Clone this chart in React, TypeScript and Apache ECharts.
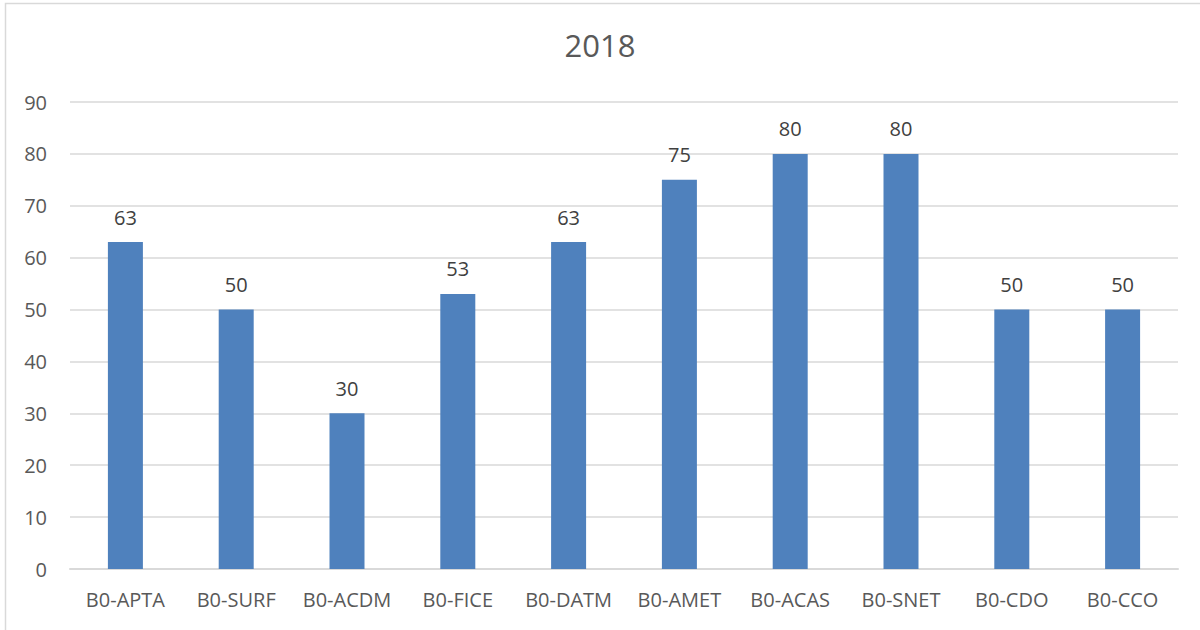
import React, { useEffect, useRef } from "react";
import * as echarts from "echarts";

const categories = ["B0-APTA", "B0-SURF", "B0-ACDM", "B0-FICE", "B0-DATM", "B0-AMET", "B0-ACAS", "B0-SNET", "B0-CDO", "B0-CCO"];
const values = [63, 50, 30, 53, 63, 75, 80, 80, 50, 50];
const title = "2018";

const FONT = "'Open Sans', sans-serif";

export default function App() {
  const ref = useRef<HTMLDivElement>(null);
  useEffect(() => {
    const chart = echarts.init(ref.current!, null, { renderer: "svg" });
    chart.setOption({
      animation: false,
      backgroundColor: "#ffffff",
      title: {
        text: title,
        left: "center",
        top: 24,
        textStyle: { color: "#595959", fontSize: 31, fontWeight: "normal", fontFamily: FONT },
      },
      graphic: [
        {
          type: "rect",
          shape: { x: 5.5, y: 3.5, width: 1300, height: 700 },
          style: { fill: "none", stroke: "#d9d9d9", lineWidth: 1.5 },
          silent: true,
        },
      ],
      grid: { left: 70, right: 22, top: 102, bottom: 61 },
      xAxis: {
        type: "category",
        data: categories,
        axisLine: { lineStyle: { color: "#d9d9d9", width: 2 } },
        axisTick: { show: false },
        axisLabel: { color: "#595959", fontSize: 20, fontFamily: FONT, margin: 20, interval: 0, hideOverlap: false },
      },
      yAxis: {
        type: "value",
        min: 0,
        max: 90,
        interval: 10,
        axisLine: { show: false },
        axisTick: { show: false },
        splitLine: { lineStyle: { color: "#d9d9d9", width: 1.5 } },
        axisLabel: { color: "#595959", fontSize: 20, fontFamily: FONT, margin: 23 },
      },
      series: [
        {
          type: "bar",
          data: values,
          barWidth: 35,
          itemStyle: { color: "#4f81bd" },
          label: {
            show: true,
            position: "top",
            distance: 15,
            color: "#404040",
            fontSize: 20,
            fontFamily: FONT,
          },
        },
      ],
    });
    return () => chart.dispose();
  }, []);
  return <div ref={ref} style={{ width: 1200, height: 630, position: "absolute", left: 0, top: 0 }} />;
}
